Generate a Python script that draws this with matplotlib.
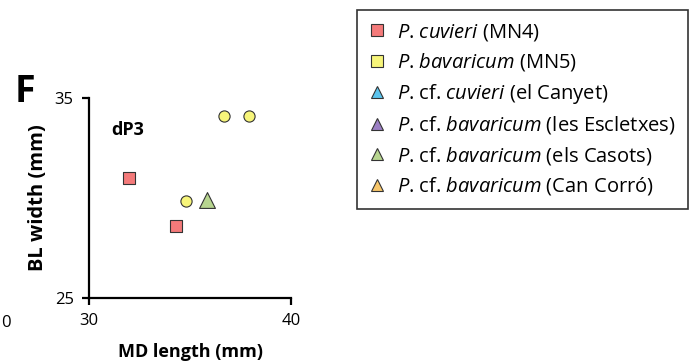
import matplotlib.pyplot as plt
from matplotlib.lines import Line2D

plt.rcParams['font.family'] = ['Open Sans', 'DejaVu Sans']
plt.rcParams['mathtext.fontset'] = 'custom'
plt.rcParams['mathtext.rm'] = 'Open Sans'
plt.rcParams['mathtext.it'] = 'Open Sans:italic'
plt.rcParams['mathtext.bf'] = 'Open Sans:bold'

# dP3 measurements (MD length, BL width), in mm
cuvieri_md = [32.0, 34.3]
cuvieri_bl = [31.0, 28.6]
bavaricum_md = [34.8, 36.7, 37.9]
bavaricum_bl = [29.85, 34.1, 34.1]
casots_md = [35.85]
casots_bl = [29.9]

# mathtext pads a '.' with extra space, so the period stays outside the math
legend_labels = [
    r'$\it{P}$. $\it{cuvieri}$ (MN4)',
    r'$\it{P}$. $\it{bavaricum}$ (MN5)',
    r'$\it{P}$. cf. $\it{cuvieri}$ (el Canyet)',
    r'$\it{P}$. cf. $\it{bavaricum}$ (les Escletxes)',
    r'$\it{P}$. cf. $\it{bavaricum}$ (els Casots)',
    r'$\it{P}$. cf. $\it{bavaricum}$ (Can Corró)',
]
legend_colors = ['#f47a7a', '#f7f57a', '#5bc4ee', '#9b7fc4', '#b7d58f', '#f7c66a']
legend_markers = ['s', 's', '^', '^', '^', '^']

fig = plt.figure(figsize=(6.97, 3.63), dpi=100)
ax = fig.add_axes([0.1277, 0.179, 0.29, 0.551])

ax.scatter(cuvieri_md, cuvieri_bl, marker='s', s=65, color='#f47a7a',
           edgecolor='#333333', linewidth=0.8, zorder=3)
ax.scatter(bavaricum_md, bavaricum_bl, marker='o', s=65, color='#f7f57a',
           edgecolor='#333333', linewidth=0.8, zorder=3)
ax.scatter(casots_md, casots_bl, marker='^', s=130, color='#b7d58f',
           edgecolor='#333333', linewidth=0.8, zorder=3)

ax.set_xlim(30, 40)
ax.set_ylim(25, 35)
ax.set_xticks([30, 40])
ax.set_yticks([25, 35])
ax.spines['top'].set_visible(False)
ax.spines['right'].set_visible(False)
for s in ('left', 'bottom'):
    ax.spines[s].set_linewidth(1.6)
ax.tick_params(direction='out', length=5, width=1.6, labelsize=12, pad=6)
ax.set_xlabel('MD length (mm)', fontsize=13, fontweight='bold', labelpad=10)
ax.set_ylabel('BL width (mm)', fontsize=14.5, fontweight='bold', labelpad=5)

ax.text(0.11, 0.84, 'dP3', transform=ax.transAxes, fontsize=13,
        fontweight='bold', va='center')
fig.text(0.021, 0.72, 'F', fontsize=27, fontweight='bold')
# edge of the neighbouring panel
fig.text(0.002, 0.1, '0', fontsize=12)

handles = [Line2D([], [], linestyle='none', marker=m, markersize=9 if m == 's' else 8,
                  markerfacecolor=c, markeredgecolor='#333333', markeredgewidth=0.8)
           for m, c in zip(legend_markers, legend_colors)]
leg = fig.legend(handles, legend_labels, loc='upper left',
                 bbox_to_anchor=(0.512, 0.973), fontsize=14.5, frameon=True,
                 fancybox=False, edgecolor='black', handlelength=0.8,
                 handletextpad=0.6, labelspacing=0.42, borderpad=0.6,
                 borderaxespad=0)
leg.get_frame().set_linewidth(1.2)

fig.savefig('out.png', dpi=100)
